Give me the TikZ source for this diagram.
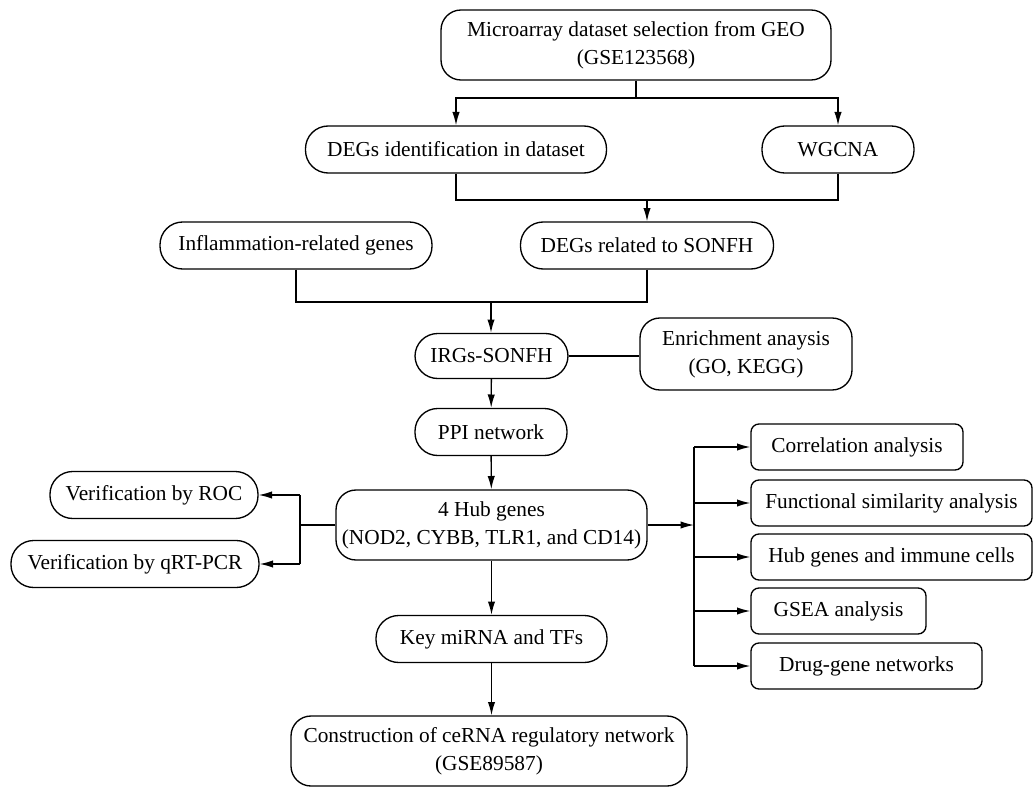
\documentclass[tikz,border=0pt]{standalone}
\usepackage{fontspec}
\setmainfont{Liberation Serif}
\usepackage{tikz}
\usetikzlibrary{arrows.meta,calc}
\def\pxu{0.75pt}

\begin{document}
\begin{tikzpicture}[
    x=0.75pt, y=-0.75pt,
    font=\fontsize{16}{21}\selectfont,
    pill/.style={rectangle, draw=black, line width=1pt, rounded corners=17pt, align=center, inner sep=0pt, minimum height=47*\pxu},
    bigbox/.style={rectangle, draw=black, line width=1pt, rounded corners=15pt, align=center, inner sep=0pt, minimum height=70*\pxu},
    sidebox/.style={rectangle, draw=black, line width=1pt, rounded corners=6pt, align=center, inner sep=0pt, minimum height=46*\pxu},
    link/.style={line width=1pt},
    arr/.style={line width=1pt, -{Latex[length=10pt,width=5.5pt]}}
]
\useasboundingbox (0,0) rectangle (1034,788);

% Main column
\node[bigbox, minimum width=390*\pxu] (micro) at (636,45) {Microarray dataset selection from GEO\\(GSE123568)};
\node[pill, minimum width=301*\pxu] (degid) at (456,149.5) {DEGs identification in dataset};
\node[pill, minimum width=152*\pxu] (wgcna) at (838,149.5) {WGCNA};
\node[pill, minimum width=272*\pxu] (infl) at (296,245.5) {Inflammation-related genes};
\node[pill, minimum width=253*\pxu] (degso) at (647,245.5) {DEGs related to SONFH};
\node[pill, minimum width=153*\pxu, minimum height=45*\pxu] (irgs) at (491.5,356) {IRGs-SONFH};
\node[bigbox, minimum width=212*\pxu, minimum height=72*\pxu] (enrich) at (746,354) {Enrichment anaysis\\(GO, KEGG)};
\node[pill, minimum width=152*\pxu] (ppi) at (491,432) {PPI network};
\node[bigbox, minimum width=311*\pxu] (hub) at (491.5,525) {4 Hub genes\\(NOD2, CYBB, TLR1, and CD14)};
\node[pill, minimum width=231*\pxu] (key) at (491.5,639) {Key miRNA and TFs};
\node[bigbox, minimum width=396*\pxu] (cerna) at (489,751) {Construction of ceRNA regulatory network\\(GSE89587)};

% Left branch
\node[pill, minimum width=208*\pxu] (roc) at (154,495) {Verification by ROC};
\node[pill, minimum width=248*\pxu] (qrt) at (135,564) {Verification by qRT-PCR};

% Right branch
\node[sidebox, minimum width=212*\pxu] (corr) at (857,447) {Correlation analysis};
\node[sidebox, minimum width=281*\pxu] (func) at (891.5,503) {Functional similarity analysis};
\node[sidebox, minimum width=281*\pxu] (immune) at (891.5,557) {Hub genes and immune cells};
\node[sidebox, minimum width=175*\pxu] (gsea) at (838.5,611) {GSEA analysis};
\node[sidebox, minimum width=231*\pxu] (drug) at (866.5,666) {Drug-gene networks};

% Junction points
\coordinate (split) at (636,98);
\coordinate (join1) at (647,200);
\coordinate (join2) at (491,302);
\coordinate (lbus) at (300,525);
\coordinate (rbus) at (694,525);

% Top split
\draw[link] (micro.south) -- (split);
\draw[arr] (split) -| (degid.north);
\draw[arr] (split) -| (wgcna.north);

% Joins
\draw[link] (degid.south) |- (join1);
\draw[link] (wgcna.south) |- (join1);
\draw[arr] (join1) -- (degso.north);
\draw[link] (infl.south) |- (join2);
\draw[link] (degso.south) |- (join2);
\draw[arr] (join2) -- (join2 |- irgs.north);

% Main flow
\draw[link] (irgs.east) -- (irgs.east -| enrich.west);
\draw[arr] (irgs) -- (ppi);
\draw[arr] (ppi) -- (hub);
\draw[arr] (hub) -- (key);
\draw[arr] (key.south) -- (key.south |- cerna.north);

% Left bus
\draw[link] (hub.west) -- (lbus);
\draw[link] (lbus |- roc) -- (lbus |- qrt);
\draw[arr] (lbus |- roc) -- (roc.east);
\draw[arr] (lbus |- qrt) -- (qrt.east);

% Right bus
\draw[arr] (hub.east) -- (rbus);
\draw[link] (rbus |- corr) -- (rbus |- drug);
\foreach \n in {corr,func,immune,gsea,drug}
    \draw[arr] (rbus |- \n) -- (\n.west);

\end{tikzpicture}
\end{document}
